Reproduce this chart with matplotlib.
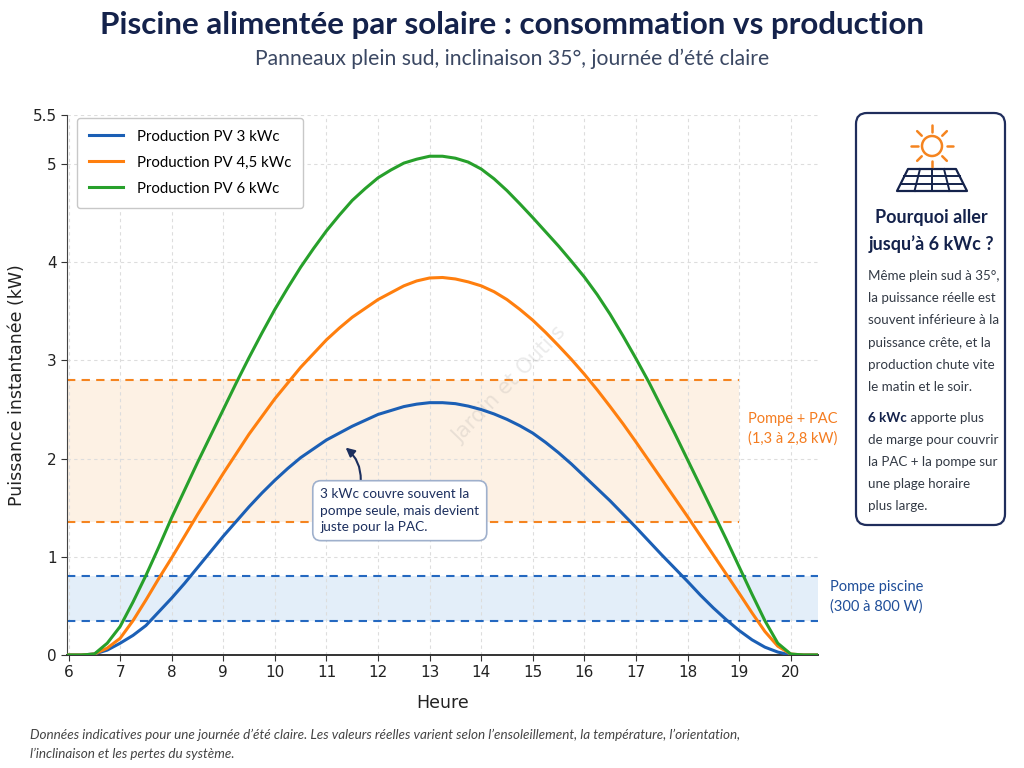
import matplotlib
matplotlib.use("Agg")
import matplotlib.pyplot as plt
from matplotlib.patches import FancyBboxPatch, Circle, Polygon
import numpy as np

# ---------------- data (quarter-hour steps) ----------------
hours = [6.0, 6.25, 6.5, 6.75, 7.0, 7.25, 7.5, 7.75, 8.0, 8.25, 8.5, 8.75, 9.0, 9.25,
         9.5, 9.75, 10.0, 10.25, 10.5, 10.75, 11.0, 11.25, 11.5, 11.75, 12.0, 12.25,
         12.5, 12.75, 13.0, 13.25, 13.5, 13.75, 14.0, 14.25, 14.5, 14.75, 15.0, 15.25,
         15.5, 15.75, 16.0, 16.25, 16.5, 16.75, 17.0, 17.25, 17.5, 17.75, 18.0, 18.25,
         18.5, 18.75, 19.0, 19.25, 19.5, 19.75, 20.0, 20.25, 20.5]
pv_3kwc = [0.00, 0.00, 0.01, 0.05, 0.12, 0.20, 0.30, 0.44, 0.58, 0.73, 0.89, 1.05, 1.21,
           1.36, 1.51, 1.65, 1.78, 1.90, 2.01, 2.10, 2.19, 2.26, 2.33, 2.39, 2.45, 2.49,
           2.53, 2.555, 2.57, 2.57, 2.56, 2.535, 2.50, 2.455, 2.40, 2.335, 2.26, 2.165,
           2.06, 1.945, 1.82, 1.695, 1.57, 1.435, 1.30, 1.16, 1.02, 0.885, 0.75, 0.61,
           0.48, 0.36, 0.25, 0.155, 0.08, 0.03, 0.00, 0.00, 0.00]
pv_45kwc = [0.00, 0.00, 0.01, 0.07, 0.17, 0.35, 0.56, 0.78, 0.99, 1.21, 1.43, 1.64, 1.85,
            2.05, 2.25, 2.43, 2.61, 2.77, 2.93, 3.07, 3.21, 3.33, 3.44, 3.53, 3.62, 3.69,
            3.76, 3.81, 3.84, 3.845, 3.83, 3.80, 3.76, 3.70, 3.62, 3.52, 3.41, 3.285,
            3.15, 3.01, 2.86, 2.70, 2.53, 2.355, 2.17, 1.98, 1.79, 1.60, 1.41, 1.215,
            1.02, 0.825, 0.63, 0.43, 0.24, 0.09, 0.01, 0.00, 0.00]
pv_6kwc = [0.00, 0.00, 0.01, 0.12, 0.29, 0.54, 0.81, 1.10, 1.40, 1.68, 1.96, 2.23, 2.50,
           2.77, 3.03, 3.28, 3.52, 3.74, 3.95, 4.14, 4.32, 4.48, 4.63, 4.75, 4.86, 4.94,
           5.01, 5.05, 5.08, 5.08, 5.06, 5.02, 4.95, 4.85, 4.73, 4.595, 4.455, 4.31,
           4.165, 4.01, 3.85, 3.67, 3.47, 3.25, 3.02, 2.78, 2.52, 2.26, 1.99, 1.72,
           1.45, 1.18, 0.90, 0.62, 0.35, 0.12, 0.01, 0.00, 0.00]
series_labels = ["Production PV 3 kWc", "Production PV 4,5 kWc", "Production PV 6 kWc"]
pump_range = [0.35, 0.80]      # kW
pac_range = [1.35, 2.80]       # kW
pac_end_hour = 19.0
x_ticks = list(range(6, 21))
y_ticks = [0, 1, 2, 3, 4, 5, 5.5]
y_tick_labels = ["0", "1", "2", "3", "4", "5", "5.5"]

# ---------------- style ----------------
NAVY = "#14224b"
C_BLUE = "#1b5fb5"
C_ORANGE = "#ff7f0e"
C_GREEN = "#27a02b"
TXT = "Lato"

W, H = 1024, 768
fig = plt.figure(figsize=(W / 100, H / 100), dpi=100)

def fx(px):
    return px / W

def fy(py):
    return 1 - py / H

# main axes
ax_l, ax_r, ax_t, ax_b = 67, 818, 115, 655
ax = fig.add_axes([fx(ax_l), fy(ax_b), fx(ax_r - ax_l), (ax_b - ax_t) / H])
ax.set_xlim(5.97, 20.53)
ax.set_ylim(0, 5.5)

# bands
ax.fill_between([5.97, pac_end_hour], pac_range[0], pac_range[1], color="#fdf1e4", zorder=0, lw=0)
ax.fill_between([5.97, 20.53], pump_range[0], pump_range[1], color="#e3eef9", zorder=0, lw=0)
for v in pac_range:
    ax.plot([5.97, pac_end_hour], [v, v], ls=(0, (4, 3)), color="#f5841f", lw=1.5, zorder=1)
for v in pump_range:
    ax.plot([5.97, 20.53], [v, v], ls=(0, (4, 3)), color="#2468c0", lw=1.5, zorder=1)

# curves
for ys, col, lab in zip([pv_3kwc, pv_45kwc, pv_6kwc], [C_BLUE, C_ORANGE, C_GREEN], series_labels):
    ax.plot(hours, ys, color=col, lw=2.2, label=lab, zorder=3, solid_joinstyle="round")

ax.set_xticks(x_ticks)
ax.set_yticks(y_ticks)
ax.set_yticklabels(y_tick_labels)
ax.tick_params(labelsize=11, length=4, color="#333333", labelcolor="#222222")
ax.grid(True, ls=(0, (3, 3)), color="#dddddd", lw=0.8)
ax.set_axisbelow(True)
for s in ["top", "right"]:
    ax.spines[s].set_visible(False)
ax.spines["left"].set_color("#444444")
ax.spines["bottom"].set_color("#333333")
ax.spines["bottom"].set_linewidth(1.4)
ax.set_xlabel("Heure", fontsize=12.5, color="#222222", labelpad=10)
ax.set_ylabel("Puissance instantanée (kW)", fontsize=12.5, color="#222222", labelpad=5)

leg = ax.legend(loc="upper left", bbox_to_anchor=(0.013, 0.995), borderaxespad=0,
                prop={"family": TXT, "size": 10.8}, handlelength=2.3,
                handletextpad=0.9, labelspacing=0.8, borderpad=0.8, fancybox=True,
                framealpha=1, edgecolor="#c8c8c8")
leg.get_frame().set_linewidth(1.0)

# band labels
ax.text(19.17, 2.3, "Pompe + PAC\n(1,3 à 2,8 kW)", color="#f47c20", fontsize=10.5,
        family=TXT, ha="left", va="center", linespacing=1.5, clip_on=False)
ax.text(20.76, 0.59, "Pompe piscine\n(300 à 800 W)", color="#1f4e99", fontsize=10.5,
        family=TXT, ha="left", va="center", linespacing=1.5, clip_on=False)

# annotation
ax.annotate("3 kWc couvre souvent la\npompe seule, mais devient\njuste pour la PAC.",
            xy=(11.33, 2.13), xytext=(10.88, 1.47), textcoords="data",
            ha="left", va="center", fontsize=9.8, family=TXT, color="#1c2f5e",
            linespacing=1.45,
            bbox=dict(boxstyle="round,pad=0.55,rounding_size=0.6", fc="white",
                      ec="#9fb0cc", lw=1.2),
            arrowprops=dict(arrowstyle="-|>", color="#1c2f5e", lw=1.5,
                            mutation_scale=13, connectionstyle="arc3,rad=0.3",
                            relpos=(0.25, 1.0), shrinkA=0, shrinkB=2),
            zorder=5)

# watermark
ax.text(14.55, 2.75, "Jardin et Outils", rotation=46, fontsize=15, color="#999999",
        alpha=0.2, ha="center", va="center", family="DejaVu Sans", zorder=2)

# titles
fig.text(0.5, fy(25), "Piscine alimentée par solaire : consommation vs production",
         ha="center", va="center", fontsize=22.6, fontweight="bold", color=NAVY, family=TXT)
fig.text(0.5, fy(59), "Panneaux plein sud, inclinaison 35°, journée d’été claire",
         ha="center", va="center", fontsize=15.2, color="#3b4863", family=TXT)

# footnote
fig.text(fx(30), fy(735), "Données indicatives pour une journée d’été claire. Les valeurs réelles varient "
         "selon l’ensoleillement, la température, l’orientation,",
         ha="left", va="center", fontsize=9.7, style="italic", color="#444444", family=TXT)
fig.text(fx(30), fy(754), "l’inclinaison et les pertes du système.",
         ha="left", va="center", fontsize=9.7, style="italic", color="#444444", family=TXT)

# ---------------- side box ----------------
ov = fig.add_axes([0, 0, 1, 1], zorder=-1)
ov.set_xlim(0, W)
ov.set_ylim(H, 0)
ov.axis("off")
ov.add_patch(FancyBboxPatch((856, 113), 149, 412, boxstyle="round,pad=0,rounding_size=11",
                            fc="white", ec="#1f2d5c", lw=1.6))

# icon (sun + panel)
cx, cy = 932, 146
ov.add_patch(Circle((cx, cy), 10, fill=False, ec="#f5841f", lw=1.8))
for a in np.arange(0, 360, 45):
    r = np.deg2rad(a)
    ov.plot([cx + 14.5 * np.cos(r), cx + 21 * np.cos(r)],
            [cy + 14.5 * np.sin(r), cy + 21 * np.sin(r)], color="#f5841f", lw=1.8,
            solid_capstyle="round")
tl, tr, bl, br, yt, yb = 908, 956, 897, 967, 169, 191
ov.add_patch(Polygon([(tl, yt), (tr, yt), (br, yb), (bl, yb)], closed=True, fill=False,
                     ec=NAVY, lw=1.6, joinstyle="round"))
for f in (1 / 3, 2 / 3):
    yy = yt + f * (yb - yt)
    ov.plot([tl + f * (bl - tl), tr + f * (br - tr)], [yy, yy], color=NAVY, lw=1.4)
for f in (0.25, 0.5, 0.75):
    ov.plot([tl + f * (tr - tl), bl + f * (br - bl)], [yt, yb], color=NAVY, lw=1.4)

ov.text(931, 218, "Pourquoi aller", ha="center", va="center", fontsize=13,
        fontweight="bold", color=NAVY, family=TXT)
ov.text(931, 244, "jusqu’à 6 kWc ?", ha="center", va="center", fontsize=13,
        fontweight="bold", color=NAVY, family=TXT)

BODY = 9.6
body1 = ["Même plein sud à 35°,", "la puissance réelle est", "souvent inférieure à la",
         "puissance crête, et la", "production chute vite", "le matin et le soir."]
for i, line in enumerate(body1):
    ov.text(868, 276 + i * 22.2, line, ha="left", va="center", fontsize=BODY,
            color="#333a45", family=TXT)
body2 = ["de marge pour couvrir", "la PAC + la pompe sur", "une plage horaire", "plus large."]
tb = ov.text(868, 418, "6 kWc", ha="left", va="center", fontsize=BODY, fontweight="bold",
             color=NAVY, family=TXT)
fig.canvas.draw()
bb = tb.get_window_extent()
x_after = ov.transData.inverted().transform((bb.x1, bb.y0))[0]
ov.text(x_after, 418, " apporte plus", ha="left", va="center", fontsize=BODY,
        color="#333a45", family=TXT)
for i, line in enumerate(body2):
    ov.text(868, 440 + i * 22, line, ha="left", va="center", fontsize=BODY,
            color="#333a45", family=TXT)

fig.savefig("out.png", dpi=100, facecolor="white")
